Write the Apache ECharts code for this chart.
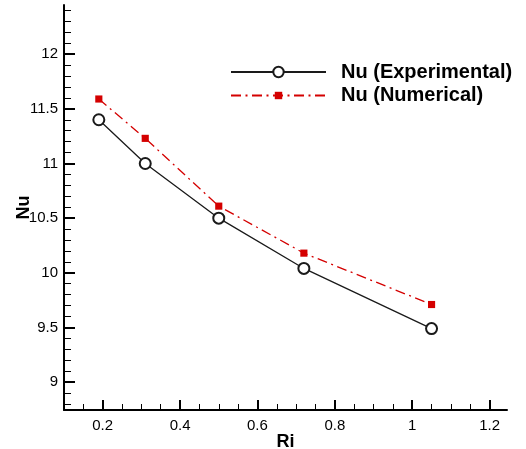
<!DOCTYPE html>
<html>
<head>
<meta charset="utf-8">
<script src="https://cdn.jsdelivr.net/npm/echarts@6/dist/echarts.min.js"></script>
<style>
html,body{margin:0;padding:0;background:#fff;}
#chart{width:526px;height:449px;}
</style>
</head>
<body>
<div id="chart"></div>
<script>
// Data
var riValues = [0.19, 0.31, 0.50, 0.72, 1.05];
var nuExperimental = [11.40, 11.00, 10.50, 10.04, 9.49];
var nuNumerical = [11.59, 11.23, 10.61, 10.18, 9.71];
var seriesNames = ['Nu (Experimental)', 'Nu (Numerical)'];

// Tick values
var xMajorTicks = [0.2, 0.4, 0.6, 0.8, 1, 1.2];
var xMinorTicks = [0.1, 0.15, 0.25, 0.3, 0.35, 0.45, 0.5, 0.55, 0.65, 0.7, 0.75, 0.85, 0.9, 0.95, 1.05, 1.1, 1.15];
var yMajorTicks = [9, 9.5, 10, 10.5, 11, 11.5, 12];
var yMinorTicks = [8.8, 8.9, 9.1, 9.2, 9.3, 9.4, 9.6, 9.7, 9.8, 9.9, 10.1, 10.2, 10.3, 10.4, 10.6, 10.7, 10.8, 10.9, 11.1, 11.2, 11.3, 11.4, 11.6, 11.7, 11.8, 11.9, 12.1, 12.2, 12.3, 12.4];

var FONT = 'Liberation Sans, Arial, Helvetica, sans-serif';
var X_MIN = 0.1, X_MAX = 1.245, Y_MIN = 8.745, Y_MAX = 12.45;

function pairs(xs, ys) { return xs.map(function (x, i) { return [x, ys[i]]; }); }

var chart = echarts.init(document.getElementById('chart'), null, { renderer: 'canvas' });

var baseX = {
  type: 'value', min: X_MIN, max: X_MAX, position: 'bottom',
  splitLine: { show: false }
};
var baseY = {
  type: 'value', min: Y_MIN, max: Y_MAX, position: 'left',
  splitLine: { show: false }
};

chart.setOption({
  animation: false,
  backgroundColor: '#fff',
  grid: { left: 64, right: 19, top: 5, bottom: 39, containLabel: false, outerBoundsMode: 'none' },
  legend: {
    orient: 'vertical',
    left: 225,
    top: 56,
    itemWidth: 95,
    itemHeight: 13,
    itemGap: 1.5,
    textStyle: { fontFamily: FONT, fontWeight: 'bold', fontSize: 20, lineHeight: 22, color: '#000', padding: [0, 0, 0, 10] },
    data: seriesNames
  },
  xAxis: [
    Object.assign({}, baseX, {
      name: 'Ri', nameLocation: 'middle', nameGap: 23, nameMoveOverlap: false,
      nameTextStyle: { fontFamily: FONT, fontWeight: 'bold', fontSize: 18, color: '#000' },
      axisLine: { show: true, onZero: false, lineStyle: { color: '#000', width: 2 } },
      axisTick: { show: true, inside: true, length: 10, customValues: xMajorTicks, lineStyle: { color: '#000', width: 2 } },
      axisLabel: { show: true, margin: 8, customValues: xMajorTicks, fontFamily: FONT, fontSize: 15, color: '#000',
        formatter: function (v) { return String(v); } }
    }),
    Object.assign({}, baseX, {
      axisLine: { show: false },
      axisTick: { show: true, inside: true, length: 6, customValues: xMinorTicks, lineStyle: { color: '#000', width: 1 } },
      axisLabel: { show: false }
    })
  ],
  yAxis: [
    Object.assign({}, baseY, {
      name: 'Nu', nameLocation: 'middle', nameGap: 31, nameRotate: 90, nameMoveOverlap: false,
      nameTextStyle: { fontFamily: FONT, fontWeight: 'bold', fontSize: 18, color: '#000' },
      axisLine: { show: true, onZero: false, lineStyle: { color: '#000', width: 2 } },
      axisTick: { show: true, inside: true, length: 11, customValues: yMajorTicks, lineStyle: { color: '#000', width: 2 } },
      axisLabel: { show: true, margin: 6, customValues: yMajorTicks, fontFamily: FONT, fontSize: 15, color: '#000',
        formatter: function (v) { return String(v); } }
    }),
    Object.assign({}, baseY, {
      axisLine: { show: false },
      axisTick: { show: true, inside: true, length: 7, customValues: yMinorTicks, lineStyle: { color: '#000', width: 1 } },
      axisLabel: { show: false }
    })
  ],
  series: [
    {
      name: seriesNames[0], type: 'line', xAxisIndex: 0, yAxisIndex: 0,
      data: pairs(riValues, nuExperimental),
      symbol: 'emptyCircle', symbolSize: 11, showAllSymbol: true,
      lineStyle: { color: '#1a1a1a', width: 1.3 },
      itemStyle: { color: '#1a1a1a', borderColor: '#1a1a1a', borderWidth: 1.2 },
      z: 3
    },
    {
      name: seriesNames[1], type: 'line', xAxisIndex: 0, yAxisIndex: 0,
      data: pairs(riValues, nuNumerical),
      symbol: 'path://M-2,-2L-2,-2M12,12L12,12M0,0L10,0L10,10L0,10Z', symbolSize: 10, showAllSymbol: true,
      lineStyle: { color: '#d40000', width: 1.3, type: [10, 4.5, 2, 4.5] },
      itemStyle: { color: '#d40000', borderWidth: 0 },
      z: 4
    }
  ]
});
</script>
</body>
</html>
